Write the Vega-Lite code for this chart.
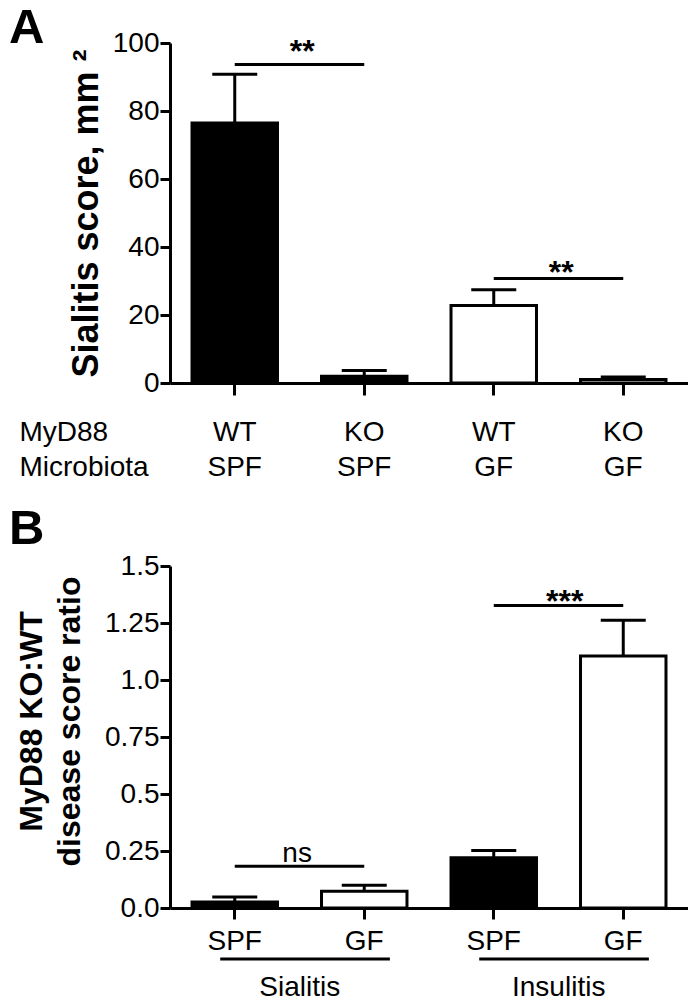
{
  "$schema": "https://vega.github.io/schema/vega-lite/v6.json",
  "padding": {"left": 9, "top": 4, "right": 0, "bottom": 0},
  "background": "white",
  "spacing": 24,
  "config": {
    "view": {"stroke": null},
    "font": "Liberation Sans",
    "axis": {
      "domainColor": "black", "domainWidth": 3, "tickColor": "black", "tickWidth": 3,
      "labelColor": "black", "labelFont": "Liberation Sans", "labelFontSize": 28,
      "titleColor": "black", "titleFont": "Liberation Sans", "grid": false
    },
    "title": {"font": "Liberation Sans", "color": "black", "fontSize": 49, "fontWeight": "bold", "anchor": "start", "frame": "group"}
  },
  "vconcat": [
    {
      "width": 518, "height": 340,
      "title": {"text": "A", "dx": -161, "dy": 28},
      "data": {"values": [
        {"group": "WT SPF", "microbiota": "SPF", "mean": 76.5, "upper": 90.8},
        {"group": "KO SPF", "microbiota": "SPF", "mean": 2.0, "upper": 3.7},
        {"group": "WT GF", "microbiota": "GF", "mean": 22.8, "upper": 27.4},
        {"group": "KO GF", "microbiota": "GF", "mean": 1.0, "upper": 1.8}
      ]},
      "layer": [
        {
          "mark": {"type": "bar", "stroke": "black", "strokeWidth": 3},
          "encoding": {
            "x": {"field": "group", "type": "nominal", "sort": null,
              "scale": {"domain": ["WT SPF", "KO SPF", "WT GF", "KO GF"], "paddingInner": 0.34, "paddingOuter": 0.17},
              "axis": {"labelAngle": 0, "labelExpr": "split(datum.label, ' ')", "labelLineHeight": 35, "tickSize": 12, "labelPadding": 23,
                "title": ["MyD88", "Microbiota"], "titleX": -151, "titleY": 35, "titleAlign": "left", "titleBaseline": "top", "titleAngle": 0,
                "titleFontWeight": "normal", "titleFontSize": 28, "titleLineHeight": 35}},
            "y": {"field": "mean", "type": "quantitative",
              "scale": {"domain": [0, 100], "nice": false},
              "axis": {"values": [0, 20, 40, 60, 80, 100], "tickSize": 10, "labelPadding": 1,
                "title": "Sialitis score, mm ²", "titleFontSize": 36, "titleFontWeight": "bold", "titlePadding": 7}},
            "color": {"field": "microbiota", "type": "nominal", "scale": {"domain": ["SPF", "GF"], "range": ["black", "white"]}, "legend": null}
          }
        },
        {
          "mark": {"type": "rule", "color": "black", "strokeWidth": 3},
          "encoding": {
            "x": {"field": "group", "type": "nominal", "bandPosition": 0.5},
            "y": {"field": "mean", "type": "quantitative"},
            "y2": {"field": "upper"}
          }
        },
        {
          "mark": {"type": "tick", "color": "black", "size": 45, "thickness": 3, "orient": "horizontal", "opacity": 1},
          "encoding": {
            "x": {"field": "group", "type": "nominal"},
            "y": {"field": "upper", "type": "quantitative"}
          }
        },
        {
          "data": {"values": [
            {"from": "WT SPF", "to": "KO SPF", "y": 93.7, "ty": 94.3, "label": "**"},
            {"from": "WT GF", "to": "KO GF", "y": 30.7, "ty": 29.5, "label": "**"}
          ]},
          "layer": [
            {
              "mark": {"type": "rule", "color": "black", "strokeWidth": 3},
              "encoding": {
                "x": {"field": "from", "type": "nominal", "bandPosition": 0.5},
                "x2": {"field": "to", "bandPosition": 0.5},
                "y": {"field": "y", "type": "quantitative"}
              }
            },
            {
              "mark": {"type": "text", "fontSize": 32, "fontWeight": "bold", "baseline": "alphabetic", "align": "center", "color": "black"},
              "encoding": {
                "x": {"field": "from", "type": "nominal", "bandPosition": 1.29},
                "y": {"field": "ty", "type": "quantitative"},
                "text": {"field": "label"}
              }
            }
          ]
        }
      ]
    },
    {
      "width": 518, "height": 342,
      "title": {"text": "B", "dx": -161, "dy": 6},
      "data": {"values": [
        {"group": "Sialitis SPF", "microbiota": "SPF", "mean": 0.026, "upper": 0.048},
        {"group": "Sialitis GF", "microbiota": "GF", "mean": 0.073, "upper": 0.10},
        {"group": "Insulitis SPF", "microbiota": "SPF", "mean": 0.22, "upper": 0.252},
        {"group": "Insulitis GF", "microbiota": "GF", "mean": 1.105, "upper": 1.262}
      ]},
      "layer": [
        {
          "mark": {"type": "bar", "stroke": "black", "strokeWidth": 3},
          "encoding": {
            "x": {"field": "group", "type": "nominal", "sort": null,
              "scale": {"domain": ["Sialitis SPF", "Sialitis GF", "Insulitis SPF", "Insulitis GF"], "paddingInner": 0.34, "paddingOuter": 0.17},
              "axis": {"labelAngle": 0, "labelExpr": "split(datum.label, ' ')[1]", "tickSize": 11, "labelPadding": 8, "title": null}},
            "y": {"field": "mean", "type": "quantitative",
              "scale": {"domain": [0, 1.5], "nice": false},
              "axis": {"values": [0, 0.25, 0.5, 0.75, 1, 1.25, 1.5], "tickSize": 10, "labelPadding": 1,
                "labelExpr": "datum.value % 0.5 == 0 ? format(datum.value, '.1f') : format(datum.value, '.2f')",
                "title": ["MyD88 KO:WT", "disease score ratio"], "titleFontSize": 32, "titleFontWeight": "bold", "titleLineHeight": 38,
                "titlePadding": 18, "titleY": 155}},
            "color": {"field": "microbiota", "type": "nominal", "scale": {"domain": ["SPF", "GF"], "range": ["black", "white"]}, "legend": null}
          }
        },
        {
          "mark": {"type": "rule", "color": "black", "strokeWidth": 3},
          "encoding": {
            "x": {"field": "group", "type": "nominal", "bandPosition": 0.5},
            "y": {"field": "mean", "type": "quantitative"},
            "y2": {"field": "upper"}
          }
        },
        {
          "mark": {"type": "tick", "color": "black", "size": 45, "thickness": 3, "orient": "horizontal", "opacity": 1},
          "encoding": {
            "x": {"field": "group", "type": "nominal"},
            "y": {"field": "upper", "type": "quantitative"}
          }
        },
        {
          "data": {"values": [
            {"from": "Sialitis SPF", "to": "Sialitis GF", "y": 0.183, "ty": 0.202, "label": "ns", "kind": "sig"},
            {"from": "Insulitis SPF", "to": "Insulitis GF", "y": 1.327, "ty": 1.299, "label": "***", "kind": "sig"},
            {"from": "Sialitis SPF", "to": "Sialitis GF", "y": -0.224, "ty": -0.388, "label": "Sialitis", "kind": "group"},
            {"from": "Insulitis SPF", "to": "Insulitis GF", "y": -0.224, "ty": -0.388, "label": "Insulitis", "kind": "group"}
          ]},
          "layer": [
            {
              "transform": [{"filter": "datum.kind == 'sig'"}],
              "mark": {"type": "rule", "color": "black", "strokeWidth": 3},
              "encoding": {
                "x": {"field": "from", "type": "nominal", "bandPosition": 0.5},
                "x2": {"field": "to", "bandPosition": 0.5},
                "y": {"field": "y", "type": "quantitative"}
              }
            },
            {
              "transform": [{"filter": "datum.kind == 'group'"}],
              "mark": {"type": "rule", "color": "black", "strokeWidth": 3},
              "encoding": {
                "x": {"field": "from", "type": "nominal", "bandPosition": 0.33},
                "x2": {"field": "to", "bandPosition": 0.8},
                "y": {"field": "y", "type": "quantitative"}
              }
            },
            {
              "transform": [{"filter": "datum.label == '***'"}],
              "mark": {"type": "text", "fontSize": 32, "fontWeight": "bold", "baseline": "alphabetic", "align": "center", "color": "black"},
              "encoding": {
                "x": {"field": "from", "type": "nominal", "bandPosition": 1.33},
                "y": {"field": "ty", "type": "quantitative"},
                "text": {"field": "label"}
              }
            },
            {
              "transform": [{"filter": "datum.label == 'ns'"}],
              "mark": {"type": "text", "fontSize": 28, "baseline": "alphabetic", "align": "center", "color": "black"},
              "encoding": {
                "x": {"field": "from", "type": "nominal", "bandPosition": 1.23},
                "y": {"field": "ty", "type": "quantitative"},
                "text": {"field": "label"}
              }
            },
            {
              "transform": [{"filter": "datum.kind == 'group'"}],
              "mark": {"type": "text", "fontSize": 28, "baseline": "alphabetic", "align": "center", "color": "black"},
              "encoding": {
                "x": {"field": "from", "type": "nominal", "bandPosition": 1.26},
                "y": {"field": "ty", "type": "quantitative"},
                "text": {"field": "label"}
              }
            }
          ]
        }
      ]
    }
  ]
}
